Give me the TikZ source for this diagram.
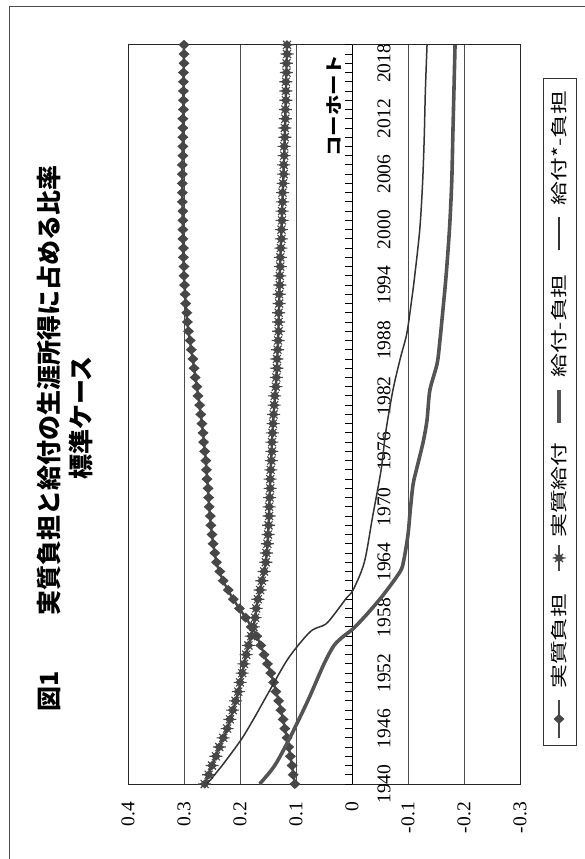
\documentclass[tikz,border=0pt]{standalone}
\usepackage{fontspec}
\setmainfont{Liberation Serif}
\newfontfamily\jp{Noto Sans CJK JP}
\usepackage{graphicx}

\definecolor{markgray}{gray}{0.28}
\definecolor{netgray}{gray}{0.33}
\definecolor{gridgray}{gray}{0.3}

\newcommand{\diamondmk}{\fill[markgray] (0pt,5pt) -- (5.5pt,0pt) -- (0pt,-5pt) -- (-5.5pt,0pt) -- cycle;}
\newcommand{\starmk}{\fill[markgray] (0pt,4.6pt) -- (4.8pt,0pt) -- (0pt,-4.6pt) -- (-4.8pt,0pt) -- cycle;
  \draw[markgray, line width=1.1pt] (-6.5pt,0pt) -- (6.5pt,0pt) (-4pt,-4pt) -- (4pt,4pt) (-4pt,4pt) -- (4pt,-4pt);}

\tikzset{
  markline/.style={draw=markgray, line width=2.4pt, line join=round},
  netline/.style={draw=netgray, line width=3.6pt, line join=round},
  netstarline/.style={draw=black!80, line width=1.5pt, line join=round},
  gridline/.style={draw=gridgray, line width=0.7pt},
  plotframe/.style={draw=black!85, line width=1pt},
  axisline/.style={draw=black, line width=0.9pt},
  numlabel/.style={rotate=90, font=\fontsize{19.5}{23}\selectfont},
  titletext/.style={rotate=90, inner sep=0pt, font=\jp\bfseries\fontsize{25}{30}\selectfont},
  legendtext/.style={rotate=90, inner sep=0pt, font=\jp\fontsize{17}{20}\selectfont},
}

\begin{document}
\begin{tikzpicture}[x=1pt, y=-1pt]
	\useasboundingbox (0,0) rectangle (585,859);
	\draw[black!70, line width=1pt] (9,859) -- (9,7) -- (585,7);

	\node[titletext, anchor=west] (fignum) at (49,712) {図1};
	\node[titletext, anchor=east] (title) at (49,165) {実質負担と給付の生涯所得に占める比率};
	\node[titletext] (subtitle) at (81,418) {標準ケース};

	\begin{scope}[shift={(352,784)}, x={(0pt,9.24pt)}, y={(-560pt,0pt)}]
		\foreach \v in {0.3,0.2,0.1,-0.1,-0.2} \draw[gridline] (0,\v) -- (80,\v);
		\draw[plotframe] (0,-0.3) rectangle (80,0.4);
		\draw[axisline] (0,0) -- (80,0);
		\foreach \t in {0,...,80} \draw[axisline] (\t,0) -- (\t,0.0125);
		\foreach \t in {0,6,...,78} {
			\pgfmathtruncatemacro{\yr}{1940+\t}
			\node[numlabel] (year\yr) at (\t,-0.057) {\yr};
		}
		\foreach \v [count=\i] in {0.4,0.3,0.2,0.1,0,-0.1,-0.2,-0.3}
			\node[numlabel, anchor=east, inner sep=0pt] (val\i) at (-1.95,\v) {\v};
		\node[rotate=90, inner sep=0pt, font=\jp\bfseries\fontsize{17}{20}\selectfont] (cohort) at (73.4,0.032) {\scalebox{1.2}[1]{コーホート}};

		% 実質負担
		\draw[markline] plot[smooth, tension=0.6] coordinates {(0,0.102) (4,0.113) (8,0.127) (12,0.145) (16,0.170) (18,0.190) (20,0.212) (22,0.230) (24,0.242) (27,0.250) (30,0.255) (35,0.261) (40,0.270) (45,0.282) (50,0.294) (55,0.300) (60,0.302) (65,0.303) (70,0.302) (75,0.301) (80,0.300)};
		\foreach \v [count=\i from 0] in {.102,.105,.107,.110,.113,.116,.120,.123,.127,.131,.136,.140,.145,.151,.157,.163,.170,.180,.190,.201,.212,.221,.230,.236,.242,.245,.248,.250,.252,.253,.255,.256,.257,.259,.260,.261,.263,.265,.266,.268,.270,.272,.275,.277,.280,.282,.284,.287,.289,.292,.294,.295,.297,.298,.299,.300,.300,.301,.301,.302,.302,.302,.302,.303,.303,.303,.303,.303,.302,.302,.302,.302,.302,.301,.301,.301,.301,.301,.300,.300,.300}
			{\begin{scope}[shift={(\i,\v)}] \diamondmk \end{scope}}
		% 実質給付
		\draw[markline] plot[smooth, tension=0.6] coordinates {(0,0.263) (2,0.250) (4,0.237) (6,0.223) (10,0.203) (14,0.189) (17,0.176) (20,0.168) (24,0.154) (28,0.149) (33,0.146) (39,0.141) (44,0.135) (50,0.131) (55,0.129) (60,0.126) (65,0.123) (70,0.120) (75,0.118) (80,0.116)};
		\foreach \v [count=\i from 0] in {.263,.256,.250,.243,.237,.230,.223,.218,.213,.208,.203,.200,.196,.193,.189,.185,.180,.176,.173,.171,.168,.164,.161,.157,.154,.153,.151,.150,.149,.148,.148,.147,.146,.146,.145,.144,.143,.143,.142,.141,.140,.139,.138,.136,.135,.134,.134,.133,.132,.131,.131,.131,.130,.130,.129,.129,.128,.128,.127,.126,.126,.125,.125,.124,.124,.123,.122,.122,.121,.121,.120,.120,.119,.119,.118,.118,.118,.117,.117,.116,.116}
			{\begin{scope}[shift={(\i,\v)}] \starmk \end{scope}}
		% 給付*-負担
		\draw[netstarline] plot[smooth, tension=0.5] coordinates {(0,0.259) (2,0.232) (4.8,0.198) (7,0.176) (9.8,0.150) (13.4,0.116) (15.6,0.088) (16.7,0.070) (17.3,0.047) (18.5,0.030) (20.2,0.009) (21,-0.002) (24,-0.022) (29,-0.037) (34,-0.052) (38,-0.060) (42.6,-0.073) (46,-0.086) (48.8,-0.098) (52.6,-0.107) (55,-0.112) (60,-0.121) (65,-0.126) (70,-0.129) (75,-0.131) (80,-0.134)};
		% 給付-負担
		\draw[netline] plot[smooth, tension=0.5] coordinates {(0,0.165) (2,0.138) (5,0.111) (9,0.079) (13,0.050) (15,0.032) (16,0.015) (16.8,-0.002) (18.4,-0.027) (20.4,-0.055) (23,-0.086) (24.4,-0.093) (27,-0.100) (29.6,-0.104) (32.4,-0.109) (34,-0.115) (37,-0.127) (39.4,-0.134) (42.6,-0.139) (45.5,-0.152) (48,-0.157) (51.4,-0.1625) (55,-0.168) (60,-0.174) (65,-0.178) (70,-0.180) (75,-0.182) (80,-0.184)};
	\end{scope}

	% legend
	\draw[black!80, line width=0.8pt] (543,78) rectangle (576,745);
	\draw[markline] (559,738) -- (559,700);
	\begin{scope}[shift={(559,719)}] \diamondmk \end{scope}
	\node[legendtext] (lgburden) at (559,641) {\scalebox{1.4}[1]{実質負担}};
	\draw[markline] (559,571) -- (559,545);
	\begin{scope}[shift={(559,558)}] \starmk \end{scope}
	\node[legendtext] (lgbenefit) at (559,490) {\scalebox{1.4}[1]{実質給付}};
	\draw[netline] (559,423) -- (559,390);
	\node[legendtext] (lgnet) at (559,326) {\scalebox{1.4}[1]{給付-負担}};
	\draw[netstarline] (559,250) -- (559,217);
	\node[legendtext] (lgnetstar) at (559,148) {\scalebox{1.4}[1]{給付*-負担}};
\end{tikzpicture}
\end{document}
